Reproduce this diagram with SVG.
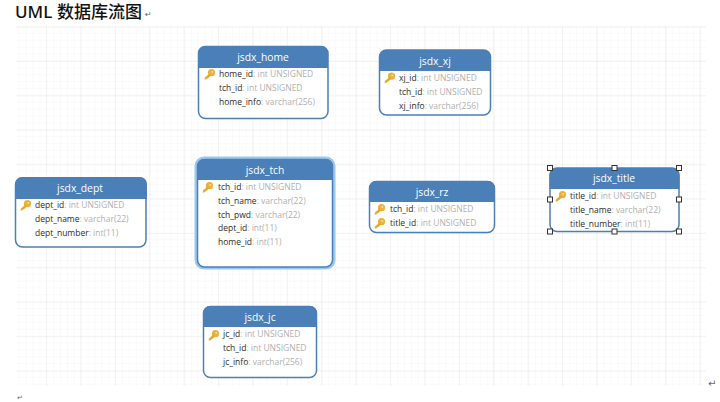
<svg xmlns="http://www.w3.org/2000/svg" xmlns:xlink="http://www.w3.org/1999/xlink" width="720" height="402" viewBox="0 0 720 402">
<style>
text{font-family:"Open Sans","Noto Sans","Noto Sans CJK SC",sans-serif}
.box{fill:#fff;stroke:#4a7fb8;stroke-width:1.5}
.head{fill:#4a7fb8}
.name{fill:#fff;font-size:10.3px;text-anchor:middle}
.f{fill:#2b2b2b;font-size:8.5px}
.f tspan{fill:#b0b0b0}
.h{fill:#fff;stroke:#333;stroke-width:1}
.ret{fill:#666;font-size:10px;font-family:"DejaVu Sans",sans-serif}
</style>
<defs>
<pattern id="minor" x="18.8" y="26" width="6.88" height="6.88" patternUnits="userSpaceOnUse">
<path d="M0 0V6.88M0 0H6.88" fill="none" stroke="#f5f5f5" stroke-width="1"/>
</pattern>
<pattern id="major" x="11.6" y="26.6" width="34.4" height="34.4" patternUnits="userSpaceOnUse">
<path d="M0 0V34.4M0 0H34.4" fill="none" stroke="#e8e8e8" stroke-width="1"/>
</pattern>
<g id="key">
<circle cx="7.5" cy="3.7" r="3.6" fill="#eab23a"/>
<path d="M5.5 4.6 L1 8.4 L0.6 10.4 L2.2 10.6 L3 9.4 L4 9.2 L7 6.4Z" fill="#e3a92f"/>
<circle cx="8.3" cy="2.9" r="0.9" fill="#fbe6a8"/>
</g>
</defs>
<rect width="720" height="402" fill="#fff"/>
<rect x="16" y="26" width="690" height="360" fill="url(#minor)"/>
<rect x="16" y="26" width="690" height="360" fill="url(#major)"/>
<text x="15" y="18" font-size="17" font-weight="500" fill="#111" style="font-family:'Noto Sans','Noto Sans CJK SC',sans-serif">UML<tspan x="57">数据库流图</tspan></text>
<text x="145" y="17" class="ret" style="font-size:8px">↵</text>
<text x="708" y="387" class="ret">↵</text>
<text x="17" y="400" class="ret" style="font-size:7px">↵</text>

<g id="connectors"></g>

<g id="jsdx_home">
<rect class="box" x="198.500" y="46.500" width="129.500" height="72" rx="7"/>
<path class="head" d="M198 68V53a7 7 0 0 1 7-7H321a7 7 0 0 1 7 7V68Z"/>
<text class="name" x="263" y="61">jsdx_home</text>
<use xlink:href="#key" x="204" y="69"/>
<text class="f" x="219" y="77">home_id<tspan>: int UNSIGNED</tspan></text>
<text class="f" x="219" y="91">tch_id<tspan>: int UNSIGNED</tspan></text>
<text class="f" x="219" y="104.500">home_info<tspan>: varchar(256)</tspan></text>
</g>

<g id="jsdx_xj">
<rect class="box" x="379.500" y="50" width="111" height="65" rx="7"/>
<path class="head" d="M379 71V57a7 7 0 0 1 7-7H484a7 7 0 0 1 7 7V71Z"/>
<text class="name" x="435" y="65">jsdx_xj</text>
<use xlink:href="#key" x="384" y="72.500"/>
<text class="f" x="399" y="81">xj_id<tspan>: int UNSIGNED</tspan></text>
<text class="f" x="399" y="95">tch_id<tspan>: int UNSIGNED</tspan></text>
<text class="f" x="399" y="108.500">xj_info<tspan>: varchar(256)</tspan></text>
</g>

<g id="jsdx_tch">
<rect x="196" y="158" width="138" height="110" rx="8" fill="none" stroke="#9cc8f0" stroke-width="3"/>
<rect class="box" x="197.500" y="159.500" width="135" height="107.500" rx="7"/>
<path class="head" d="M197 180V166a7 7 0 0 1 7-7H326a7 7 0 0 1 7 7V180Z"/>
<text class="name" x="265" y="174">jsdx_tch</text>
<use xlink:href="#key" x="202" y="182"/>
<text class="f" x="218" y="190">tch_id<tspan>: int UNSIGNED</tspan></text>
<text class="f" x="218" y="204">tch_name<tspan>: varchar(22)</tspan></text>
<text class="f" x="218" y="217.500">tch_pwd<tspan>: varchar(22)</tspan></text>
<text class="f" x="218" y="231">dept_id<tspan>: int(11)</tspan></text>
<text class="f" x="218" y="245">home_id<tspan>: int(11)</tspan></text>
</g>

<g id="jsdx_dept">
<rect class="box" x="15.500" y="178" width="130.500" height="69" rx="7"/>
<path class="head" d="M15 199V184a7 7 0 0 1 7-7H140a7 7 0 0 1 7 7V199Z"/>
<text class="name" x="80" y="192">jsdx_dept</text>
<use xlink:href="#key" x="20" y="200"/>
<text class="f" x="35" y="208">dept_id<tspan>: int UNSIGNED</tspan></text>
<text class="f" x="35" y="222">dept_name<tspan>: varchar(22)</tspan></text>
<text class="f" x="35" y="236">dept_number<tspan>: int(11)</tspan></text>
</g>

<g id="jsdx_rz">
<rect class="box" x="369.500" y="181.500" width="125" height="51" rx="7"/>
<path class="head" d="M369 202V188a7 7 0 0 1 7-7H488a7 7 0 0 1 7 7V202Z"/>
<text class="name" x="432" y="196">jsdx_rz</text>
<use xlink:href="#key" x="374" y="204"/>
<use xlink:href="#key" x="374" y="218"/>
<text class="f" x="390" y="212">tch_id<tspan>: int UNSIGNED</tspan></text>
<text class="f" x="390" y="226">title_id<tspan>: int UNSIGNED</tspan></text>
</g>

<g id="jsdx_title">
<rect class="box" x="550" y="168" width="129" height="63.500" rx="7"/>
<path class="head" d="M549.500 189V175a7 7 0 0 1 7-7H672.500a7 7 0 0 1 7 7V189Z"/>
<text class="name" x="614" y="182">jsdx_title</text>
<use xlink:href="#key" x="555" y="191"/>
<text class="f" x="570" y="199">title_id<tspan>: int UNSIGNED</tspan></text>
<text class="f" x="570" y="213">title_name<tspan>: varchar(22)</tspan></text>
<text class="f" x="570" y="226.500">title_number<tspan>: int(11)</tspan></text>
<rect class="h" x="547.500" y="165.500" width="5" height="5"/>
<rect class="h" x="612" y="165.500" width="5" height="5"/>
<rect class="h" x="676.500" y="165.500" width="5" height="5"/>
<rect class="h" x="547.500" y="197" width="5" height="5"/>
<rect class="h" x="676.500" y="197" width="5" height="5"/>
<rect class="h" x="547.500" y="229" width="5" height="5"/>
<rect class="h" x="612" y="229" width="5" height="5"/>
<rect class="h" x="676.500" y="229" width="5" height="5"/>
</g>

<g id="jsdx_jc">
<rect class="box" x="203.500" y="306.500" width="113" height="71" rx="7"/>
<path class="head" d="M203 327V313a7 7 0 0 1 7-7H310a7 7 0 0 1 7 7V327Z"/>
<text class="name" x="260" y="321">jsdx_jc</text>
<use xlink:href="#key" x="208" y="330"/>
<text class="f" x="223" y="337">jc_id<tspan>: int UNSIGNED</tspan></text>
<text class="f" x="223" y="351">tch_id<tspan>: int UNSIGNED</tspan></text>
<text class="f" x="223" y="364.500">jc_info<tspan>: varchar(256)</tspan></text>
</g>
</svg>
